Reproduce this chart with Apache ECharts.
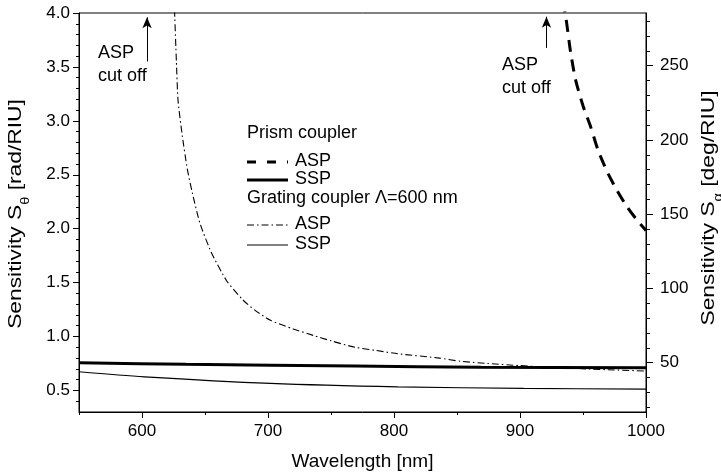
<!DOCTYPE html>
<html>
<head>
<meta charset="utf-8">
<script src="https://cdn.jsdelivr.net/npm/echarts@6/dist/echarts.min.js"></script>
<style>html,body{margin:0;padding:0;background:#fff;overflow:hidden}#c{width:721px;height:476px}</style>
</head>
<body>
<div id="c"></div>
<script>
// ---- tick labels ----
const xTicks = [600, 700, 800, 900, 1000];
const xMinorTicks = [550, 650, 750, 850, 950];
const leftTicks = [0.5, 1.0, 1.5, 2.0, 2.5, 3.0, 3.5, 4.0];
const leftMinorTicks = [0.4, 0.6, 0.7, 0.8, 0.9, 1.1, 1.2, 1.3, 1.4, 1.6, 1.7, 1.8, 1.9, 2.1, 2.2, 2.3, 2.4, 2.6, 2.7, 2.8, 2.9, 3.1, 3.2, 3.3, 3.4, 3.6, 3.7, 3.8, 3.9];
const rightTicks = [50, 100, 150, 200, 250];
const rightMinorTicks = [20, 30, 40, 60, 70, 80, 90, 110, 120, 130, 140, 160, 170, 180, 190, 210, 220, 230, 240, 260, 270, 280];

// ---- series data ----
// Prism coupler (right axis, deg/RIU)
const prismASP_nm  = [934, 936.5, 940, 944, 950, 956, 962, 969, 977, 985, 992, 1000];
const prismASP_deg = [294, 282, 260, 241, 223, 209, 193, 179, 166, 155, 147, 139];
const prismSSP_nm  = [550, 635, 769, 869, 1000];
const prismSSP_deg = [50.0, 48.9, 47.7, 47.0, 46.6];
// Grating coupler (left axis, rad/RIU)
const gratASP_nm  = [625.8, 627.3, 628.6, 632, 636, 640, 646, 655, 667, 680, 690, 702, 720, 736, 750, 769, 786, 803, 836, 853, 875, 900, 925, 953, 975, 1000];
const gratASP_rad = [4.03, 3.55, 3.19, 2.86, 2.55, 2.33, 2.05, 1.78, 1.52, 1.34, 1.24, 1.15, 1.07, 1.01, 0.96, 0.90, 0.87, 0.84, 0.80, 0.77, 0.75, 0.73, 0.715, 0.70, 0.69, 0.68];
const gratSSP_nm  = [550, 602, 702, 803, 903, 1000];
const gratSSP_rad = [0.673, 0.626, 0.565, 0.533, 0.519, 0.512];

const zip = (a, b) => a.map((v, i) => [v, b[i]]);
const FONT = 'Liberation Sans, Arial, sans-serif';

const chart = echarts.init(document.getElementById('c'), null, {renderer: 'canvas', width: 721, height: 476});

const tickLbl = {color: '#000', fontSize: 17, fontFamily: FONT};
const titleRich = {
  n: {fontSize: 19, fontFamily: FONT, fill: '#000', color: '#000', verticalAlign: 'top', lineHeight: 22},
  s: {fontSize: 12, fontFamily: FONT, fill: '#000', color: '#000', verticalAlign: 'bottom', lineHeight: 25}
};

const option = {
  animation: false,
  backgroundColor: '#fff',
  grid: {left: 79, top: 13, right: 75, bottom: 64, show: true, borderColor: '#000', borderWidth: 1, backgroundColor: 'transparent'},
  xAxis: [
    {type: 'value', min: 550, max: 1000, position: 'bottom',
     name: 'Wavelength [nm]', nameLocation: 'middle', nameGap: 40,
     nameTextStyle: {color: '#000', fontSize: 19, fontFamily: FONT},
     axisLine: {lineStyle: {color: '#000', width: 1}},
     axisTick: {customValues: xTicks, length: 6, lineStyle: {color: '#000'}},
     axisLabel: Object.assign({customValues: xTicks, margin: 11, formatter: v => String(v)}, tickLbl),
     splitLine: {show: false}},
    {type: 'value', min: 550, max: 1000, position: 'bottom',
     axisLine: {show: false},
     axisTick: {customValues: xMinorTicks, length: 3, lineStyle: {color: '#000'}},
     axisLabel: {show: false}, splitLine: {show: false}}
  ],
  yAxis: [
    {type: 'value', min: 0.3, max: 4.0, position: 'left',
     axisLine: {show: true, lineStyle: {color: '#000', width: 1}},
     axisTick: {show: true, customValues: leftTicks, length: 6, lineStyle: {color: '#000'}},
     axisLabel: Object.assign({customValues: leftTicks, margin: 9, formatter: v => v.toFixed(1)}, tickLbl),
     splitLine: {show: false}},
    {type: 'value', min: 16.8, max: 285.5, position: 'right',
     axisLine: {show: true, lineStyle: {color: '#000', width: 1}},
     axisTick: {show: true, customValues: rightTicks, length: 7, lineStyle: {color: '#000'}},
     axisLabel: Object.assign({customValues: rightTicks, margin: 14, formatter: v => String(v)}, tickLbl),
     splitLine: {show: false}},
    {type: 'value', min: 0.3, max: 4.0, position: 'left',
     axisLine: {show: false},
     axisTick: {show: true, customValues: leftMinorTicks, length: 3, lineStyle: {color: '#000'}},
     axisLabel: {show: false}, splitLine: {show: false}},
    {type: 'value', min: 16.8, max: 285.5, position: 'right',
     axisLine: {show: false},
     axisTick: {show: true, customValues: rightMinorTicks, length: 4, lineStyle: {color: '#000'}},
     axisLabel: {show: false}, splitLine: {show: false}}
  ],
  series: [
    {name: 'Prism ASP', type: 'line', yAxisIndex: 1, data: zip(prismASP_nm, prismASP_deg),
     smooth: 0.25, showSymbol: false, symbol: 'none', clip: true,
     lineStyle: {color: '#000', width: 3, type: [12, 8]},
     markLine: {silent: true, symbol: ['none', 'arrow'], symbolSize: [7, 11], label: {show: false},
       lineStyle: {color: '#000', width: 1, type: 'solid'},
       data: [[{coord: [921, 262]}, {coord: [921, 283]}]]}},
    {name: 'Prism SSP', type: 'line', yAxisIndex: 1, data: zip(prismSSP_nm, prismSSP_deg),
     smooth: 0.3, showSymbol: false, symbol: 'none',
     lineStyle: {color: '#000', width: 3}},
    {name: 'Grating ASP', type: 'line', yAxisIndex: 0, data: zip(gratASP_nm, gratASP_rad),
     smooth: 0.2, showSymbol: false, symbol: 'none', clip: true,
     lineStyle: {color: '#000', width: 1.1, type: [7, 3, 1.5, 3]},
     markLine: {silent: true, symbol: ['none', 'arrow'], symbolSize: [7, 11], label: {show: false},
       lineStyle: {color: '#000', width: 1, type: 'solid'},
       data: [[{coord: [604, 3.55]}, {coord: [604, 3.96]}]]}},
    {name: 'Grating SSP', type: 'line', yAxisIndex: 0, data: zip(gratSSP_nm, gratSSP_rad),
     smooth: 0.3, showSymbol: false, symbol: 'none',
     lineStyle: {color: '#000', width: 1.1}}
  ],
  graphic: [
    // axis titles (rotated, stretched along reading direction like the reference)
    {type: 'text', x: 19, y: 214, rotation: Math.PI / 2, scaleX: 1.2, scaleY: 1,
     style: {text: '{n|Sensitivity S}{s|θ}{n| [rad/RIU]}', rich: titleRich, align: 'center', verticalAlign: 'middle', fill: '#000'}},
    {type: 'text', x: 712, y: 208, rotation: Math.PI / 2, scaleX: 1.2, scaleY: 1,
     style: {text: '{n|Sensitivity S}{s|α}{n| [deg/RIU]}', rich: titleRich, align: 'center', verticalAlign: 'middle', fill: '#000'}},
    // annotations
    {type: 'text', left: 98, top: 42, style: {text: 'ASP\ncut off', fill: '#000', font: '18px ' + FONT, lineHeight: 23}},
    {type: 'text', left: 502, top: 54, style: {text: 'ASP\ncut off', fill: '#000', font: '18px ' + FONT, lineHeight: 23}},
    // legend
    {type: 'text', left: 247, top: 124, style: {text: 'Prism coupler', fill: '#000', font: '18px ' + FONT}},
    {type: 'line', shape: {x1: 247, y1: 162, x2: 288, y2: 162}, style: {stroke: '#000', lineWidth: 3, lineDash: [9, 11]}},
    {type: 'text', left: 295, top: 152, style: {text: 'ASP', fill: '#000', font: '18px ' + FONT}},
    {type: 'line', shape: {x1: 247, y1: 180, x2: 288, y2: 180}, style: {stroke: '#000', lineWidth: 3}},
    {type: 'text', left: 295, top: 170, style: {text: 'SSP', fill: '#000', font: '18px ' + FONT}},
    {type: 'text', left: 247, top: 189, style: {text: 'Grating coupler Λ=600 nm', fill: '#000', font: '18px ' + FONT}},
    {type: 'line', shape: {x1: 247, y1: 225, x2: 288, y2: 225}, style: {stroke: '#000', lineWidth: 1, lineDash: [7, 3, 1.5, 3]}},
    {type: 'text', left: 295, top: 215, style: {text: 'ASP', fill: '#000', font: '18px ' + FONT}},
    {type: 'line', shape: {x1: 247, y1: 245, x2: 288, y2: 245}, style: {stroke: '#000', lineWidth: 1}},
    {type: 'text', left: 295, top: 235, style: {text: 'SSP', fill: '#000', font: '18px ' + FONT}}
  ]
};
chart.setOption(option);
</script>
</body>
</html>
